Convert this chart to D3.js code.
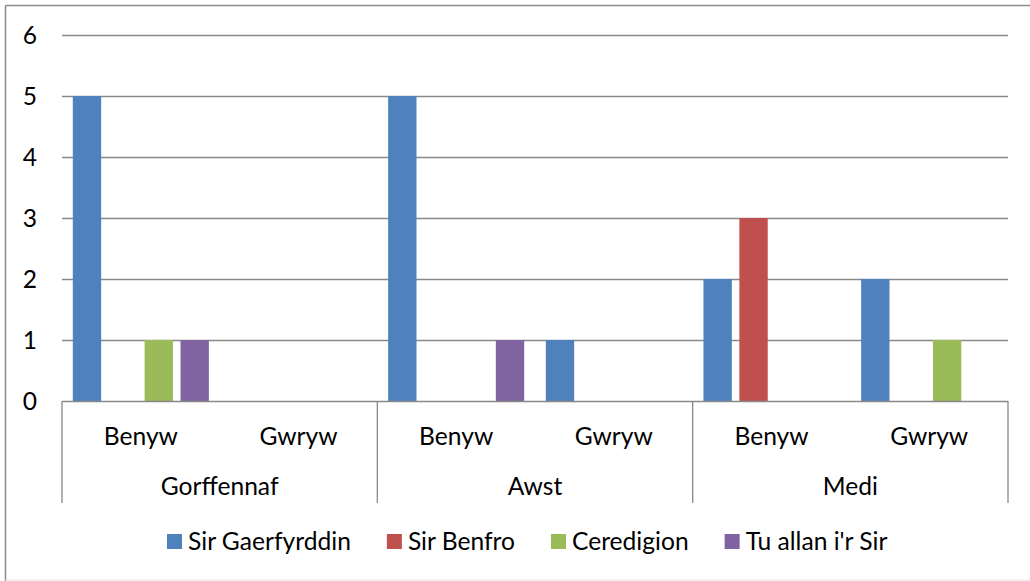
<!DOCTYPE html>
<html>
<head>
<meta charset="utf-8">
<script src="https://cdn.jsdelivr.net/npm/d3@7"></script>
<style>
  body { margin: 0; background: #fff; }
  text { font-family: Lato, "Noto Sans", sans-serif; fill: #000; }
</style>
</head>
<body>
<svg id="viz" width="1030" height="581"></svg>
<script>
// data
let months = ["Gorffennaf", "Awst", "Medi"];
let sexes = ["Benyw", "Gwryw"];
let seriesNames = ["Sir Gaerfyrddin", "Sir Benfro", "Ceredigion", "Tu allan i'r Sir"];
let seriesColors = ["#4F81BD", "#C0504D", "#9BBB59", "#8064A2"];
// values per (month, sex) in order Gorffennaf-Benyw, Gorffennaf-Gwryw, Awst-Benyw, ...
let sirGaerfyrddin = [5, 0, 5, 1, 2, 2];
let sirBenfro = [0, 0, 0, 0, 3, 0];
let ceredigion = [1, 0, 0, 0, 0, 1];
let tuAllan = [1, 0, 1, 0, 0, 0];
let yTicks = [0, 1, 2, 3, 4, 5, 6];

let allValues = [sirGaerfyrddin, sirBenfro, ceredigion, tuAllan];

let plotLeft = 62, plotRight = 1008, plotTop = 35, plotBottom = 401;
let fontSize = 24.6;
let gridColor = "#898989";

let svg = d3.select("#viz");

// outer frame
svg.append("line").attr("x1", 5.5).attr("y1", 5.5).attr("x2", 1030).attr("y2", 5.5)
  .attr("stroke", "#8c8c8c").attr("stroke-width", 1.5);
svg.append("line").attr("x1", 5.5).attr("y1", 5.5).attr("x2", 5.5).attr("y2", 581)
  .attr("stroke", "#8c8c8c").attr("stroke-width", 1.5);
svg.append("line").attr("x1", 5.5).attr("y1", 580).attr("x2", 1030).attr("y2", 580)
  .attr("stroke", "#e6e6e6").attr("stroke-width", 1);

let cats = [];
months.forEach(m => sexes.forEach(s => cats.push(m + "|" + s)));

let x0 = d3.scaleBand().domain(cats).range([plotLeft, plotRight]);
let xm = d3.scaleBand().domain(months).range([plotLeft, plotRight]);
let inset = 10.8;
let x1 = d3.scaleBand().domain(seriesNames)
  .range([inset, x0.bandwidth() - inset]).paddingInner(0.21);
let y = d3.scaleLinear().domain([0, 6]).range([plotBottom, plotTop]);

// gridlines
let grid = svg.append("g");
grid.selectAll("line").data(yTicks.filter(d => d > 0)).enter().append("line")
  .attr("x1", plotLeft).attr("x2", plotRight)
  .attr("y1", d => y(d) + 0.5).attr("y2", d => y(d) + 0.5)
  .attr("stroke", gridColor).attr("stroke-width", 1.3);

// y labels
svg.append("g").selectAll("text").data(yTicks).enter().append("text")
  .attr("x", 37).attr("y", d => y(d))
  .attr("dy", "0.36em")
  .attr("text-anchor", "end")
  .style("font-size", fontSize + "px")
  .text(d => d);

// bars
let barData = [];
cats.forEach((c, i) => {
  seriesNames.forEach((s, j) => {
    barData.push({cat: c, series: s, value: allValues[j][i], color: seriesColors[j]});
  });
});
svg.append("g").selectAll("rect").data(barData.filter(d => d.value > 0)).enter().append("rect")
  .attr("x", d => x0(d.cat) + x1(d.series))
  .attr("width", x1.bandwidth())
  .attr("y", d => y(d.value))
  .attr("height", d => y(0) - y(d.value))
  .attr("fill", d => d.color);

// category axis
let axis = svg.append("g").attr("stroke", gridColor).attr("stroke-width", 1.3);
axis.append("line").attr("x1", plotLeft).attr("x2", plotRight)
  .attr("y1", plotBottom + 0.5).attr("y2", plotBottom + 0.5);
let bounds = months.map(m => xm(m)).concat([plotRight]);
axis.selectAll(".sep").data(bounds).enter().append("line")
  .attr("x1", d => d).attr("x2", d => d)
  .attr("y1", plotBottom).attr("y2", 503);

svg.append("g").selectAll("text").data(cats).enter().append("text")
  .attr("x", d => x0(d) + x0.bandwidth() / 2)
  .attr("y", 445)
  .attr("text-anchor", "middle")
  .style("font-size", fontSize + "px")
  .text(d => d.split("|")[1]);

svg.append("g").selectAll("text").data(months).enter().append("text")
  .attr("x", d => xm(d) + xm.bandwidth() / 2)
  .attr("y", 495)
  .attr("text-anchor", "middle")
  .style("font-size", fontSize + "px")
  .text(d => d);

// legend
let legend = svg.append("g");
let lx = 167;
seriesNames.forEach((s, i) => {
  legend.append("rect").attr("x", lx).attr("y", 534).attr("width", 15).attr("height", 15)
    .attr("fill", seriesColors[i]);
  let t = legend.append("text").attr("x", lx + 21).attr("y", 550)
    .style("font-size", fontSize + "px").text(s);
  lx += 21 + t.node().getComputedTextLength() + 36;
});
</script>
</body>
</html>
